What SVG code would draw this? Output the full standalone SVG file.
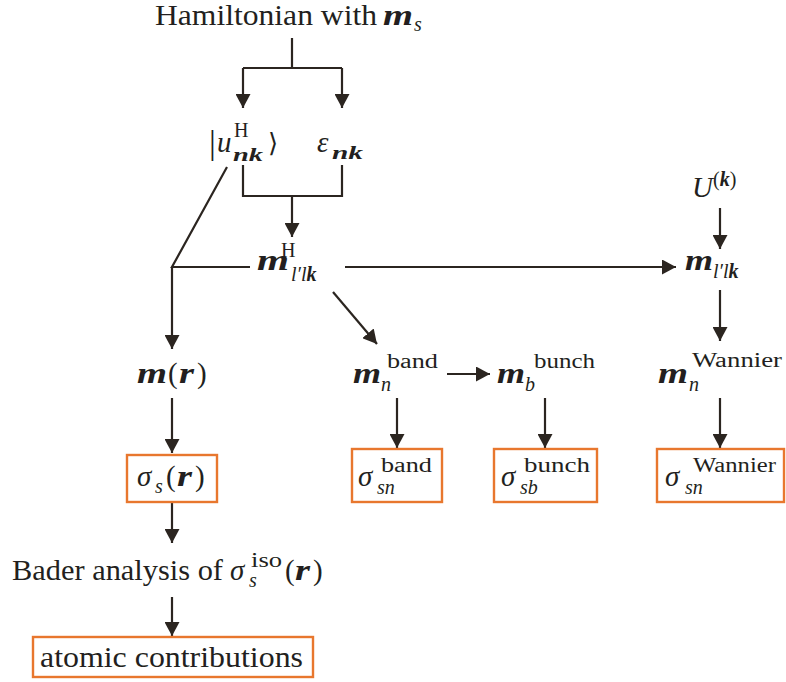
<svg xmlns="http://www.w3.org/2000/svg" width="786" height="682" viewBox="0 0 786 682">
<defs>
<style>
.t{font-family:"Liberation Serif","Times New Roman",serif;fill:#231f20;font-size:29px}
.i{font-style:italic}
.b{font-weight:bold;font-style:italic}
.s{font-size:20px}
.ss{font-size:18px}
.ln{stroke:#2b2520;stroke-width:2.2;fill:none}
.ar{marker-end:url(#ah)}
.box{fill:#fff;stroke:#e8772e;stroke-width:2.4}
</style>
<marker id="ah" markerUnits="userSpaceOnUse" markerWidth="15" markerHeight="15" refX="14" refY="7.5" orient="auto">
<path d="M0,0 L14,7.5 L0,15 z" fill="#2b2520"/>
</marker>
</defs>
<rect width="786" height="682" fill="#fff"/>
<g id="connectors">
<path class="ln" d="M292,38 V68 M243,68 H342"/>
<path class="ln ar" d="M243,68 V108"/>
<path class="ln ar" d="M342,68 V108"/>
<path class="ln" d="M243,165 V196 H342 V165"/>
<path class="ln ar" d="M292,196 V237"/>
<path class="ln" d="M227,167 L172,267 H250"/>
<path class="ln ar" d="M172,267 V349"/>
<path class="ln ar" d="M345,267 H676"/>
<path class="ln ar" d="M333,292 L377,344"/>
<path class="ln ar" d="M720,208 V249"/>
<path class="ln ar" d="M720,290 V341"/>
<path class="ln ar" d="M172,398 V453"/>
<path class="ln ar" d="M397,398 V448"/>
<path class="ln ar" d="M545,398 V448"/>
<path class="ln ar" d="M720,398 V448"/>
<path class="ln ar" d="M447,374 H490"/>
<path class="ln ar" d="M172,502 V543"/>
<path class="ln ar" d="M172,597 V636"/>
</g>
<g id="hamiltonian">
<text class="t" x="155" y="25" textLength="222" lengthAdjust="spacingAndGlyphs">Hamiltonian with</text>
<text class="t b" x="383" y="25" textLength="30" lengthAdjust="spacingAndGlyphs">m</text>
<text class="t i s" x="414" y="31">s</text>
</g>
<g id="u_nk">
<text class="t" x="209" y="154" style="font-size:34px">|</text>
<text class="t i" x="217" y="152">u</text>
<text class="t s" x="234" y="137">H</text>
<text class="t b ss" x="233" y="161" textLength="30" lengthAdjust="spacingAndGlyphs">nk</text>
<text class="t" x="268" y="152" style="font-family:'DejaVu Serif','Liberation Serif',serif;font-size:26px">⟩</text>
</g>
<g id="eps_nk">
<text class="t i" x="317" y="152">ε</text>
<text class="t b ss" x="332" y="159" textLength="31" lengthAdjust="spacingAndGlyphs">nk</text>
</g>
<g id="mH">
<text class="t b" x="257" y="270" textLength="32" lengthAdjust="spacingAndGlyphs">m</text>
<text class="t s" x="281" y="257">H</text>
<text class="t i s" x="291" y="281">l′l<tspan style="font-weight:bold">k</tspan></text>
</g>
<g id="U_k">
<text class="t i" x="692" y="197">U</text>
<text class="t s" x="713" y="186">(<tspan class="b">k</tspan>)</text>
</g>
<g id="m_llk">
<text class="t b" x="685" y="270" textLength="28" lengthAdjust="spacingAndGlyphs">m</text>
<text class="t i s" x="713" y="278">l′l<tspan style="font-weight:bold">k</tspan></text>
</g>
<g id="m_r">
<text class="t b" x="137" y="383" textLength="30" lengthAdjust="spacingAndGlyphs">m</text>
<text class="t" x="168" y="383">(</text>
<text class="t b" x="179" y="383" textLength="15" lengthAdjust="spacingAndGlyphs">r</text>
<text class="t" x="197" y="383">)</text>
</g>
<g id="m_band">
<text class="t b" x="353" y="383" textLength="28" lengthAdjust="spacingAndGlyphs">m</text>
<text class="t i s" x="381" y="391">n</text>
<text class="t s" x="387" y="368" textLength="51" lengthAdjust="spacingAndGlyphs">band</text>
</g>
<g id="m_bunch">
<text class="t b" x="497" y="383" textLength="28" lengthAdjust="spacingAndGlyphs">m</text>
<text class="t i s" x="525" y="391">b</text>
<text class="t s" x="534" y="368" textLength="61" lengthAdjust="spacingAndGlyphs">bunch</text>
</g>
<g id="m_wannier">
<text class="t b" x="658" y="383" textLength="30" lengthAdjust="spacingAndGlyphs">m</text>
<text class="t i s" x="689" y="391">n</text>
<text class="t s" x="692" y="367" textLength="90" lengthAdjust="spacingAndGlyphs">Wannier</text>
</g>
<g id="sigma_s_r">
<rect class="box" x="127" y="455" width="90" height="47"/>
<text class="t i" x="137" y="486">σ</text>
<text class="t i s" x="155" y="493">s</text>
<text class="t" x="166" y="486">(</text>
<text class="t b" x="177" y="486" textLength="15" lengthAdjust="spacingAndGlyphs">r</text>
<text class="t" x="195" y="486">)</text>
</g>
<g id="sigma_band">
<rect class="box" x="352" y="449" width="90" height="53"/>
<text class="t i" x="358" y="486">σ</text>
<text class="t i s" x="377" y="494">sn</text>
<text class="t s" x="381" y="472" textLength="51" lengthAdjust="spacingAndGlyphs">band</text>
</g>
<g id="sigma_bunch">
<rect class="box" x="494" y="449" width="103" height="53"/>
<text class="t i" x="501" y="486">σ</text>
<text class="t i s" x="520" y="494">sb</text>
<text class="t s" x="524" y="472" textLength="66" lengthAdjust="spacingAndGlyphs">bunch</text>
</g>
<g id="sigma_wannier">
<rect class="box" x="657" y="449" width="127" height="53"/>
<text class="t i" x="665" y="486">σ</text>
<text class="t i s" x="685" y="494">sn</text>
<text class="t s" x="693" y="472" textLength="83" lengthAdjust="spacingAndGlyphs">Wannier</text>
</g>
<g id="bader">
<text class="t" x="12" y="580" textLength="211" lengthAdjust="spacingAndGlyphs">Bader analysis of</text>
<text class="t i" x="230" y="580">σ</text>
<text class="t i s" x="249" y="587">s</text>
<text class="t s" x="251" y="567" textLength="31" lengthAdjust="spacingAndGlyphs">iso</text>
<text class="t" x="285" y="580">(</text>
<text class="t b" x="295" y="580" textLength="15" lengthAdjust="spacingAndGlyphs">r</text>
<text class="t" x="313" y="580">)</text>
</g>
<g id="atomic">
<rect class="box" x="33" y="637" width="280" height="40"/>
<text class="t" x="40" y="667" textLength="263" lengthAdjust="spacingAndGlyphs">atomic contributions</text>
</g>
</svg>
